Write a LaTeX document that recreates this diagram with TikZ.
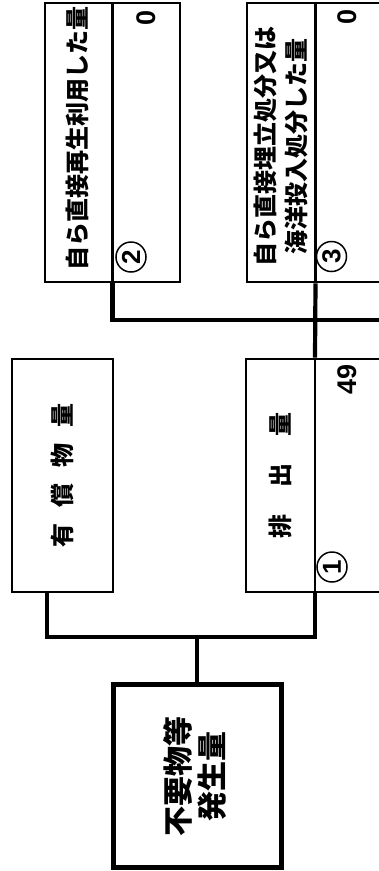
\documentclass[tikz,border=0pt]{standalone}
\usepackage{fontspec}
\usetikzlibrary{positioning}
\newfontfamily\jp{Noto Sans CJK JP}
\newfontfamily\numfont{Liberation Sans}
\tikzset{
  box/.style={draw, line width=2.8pt, inner sep=0pt},
  bigbox/.style={draw, line width=5pt, inner sep=0pt},
  divline/.style={line width=2.4pt},
  conn/.style={line width=4.2pt},
  boxtext/.style={rotate=90, inner sep=0pt, align=center, font=\jp\bfseries\fontsize{24}{31}\selectfont},
  amount/.style={rotate=90, inner sep=0pt, font=\numfont\bfseries\fontsize{27}{27}\selectfont},
  circnum/.style={rotate=90, circle, draw, line width=1.5pt, inner sep=0pt, minimum size=30pt, font=\numfont\bfseries\fontsize{26}{26}\selectfont}
}
\begin{document}
\begin{tikzpicture}[x=1pt, y=-1pt]
    \useasboundingbox (0,0) rectangle (379,871);

    \node[box, minimum width=135, minimum height=279] (reuse) at (112.5,142.5) {};
    \node[box, minimum width=137, minimum height=279] (landfill) at (315.5,142.5) {};
    \node[box, minimum width=101, minimum height=233] (valuable) at (62.5,475.5) {};
    \node[box, minimum width=138, minimum height=233] (discharge) at (315,475.5) {};
    \node[bigbox, minimum width=168, minimum height=183] (generated) at (197,775.5) {};

    \draw[divline] (reuse.north) -- (reuse.south);
    \draw[divline] (landfill.north) -- (landfill.south);
    \draw[divline] (discharge.north) -- (discharge.south);

    \coordinate (highbus) at (384,320);
    \coordinate (lowbus) at (197,637);
    \draw[conn] (reuse.south) |- (highbus);
    \draw[conn] (landfill.south) -- (discharge.north);
    \draw[conn] ([xshift=-15.5]valuable.south) |- (lowbus) -| (discharge.south);
    \draw[conn] (generated.north) -- (lowbus);

    \node[boxtext] (reusetxt) at (77,138.5) {自ら直接再生利用した量};
    \node[boxtext] (landfilltxt) at (280.5,146) {自ら直接埋立処分又は\\海洋投入処分した量};
    \node[boxtext] (valuabletxt) at (62,475) {有\hspace{16pt}償\hspace{16pt}物\hspace{16pt}量};
    \node[boxtext] (dischargetxt) at (280,475) {排\hspace{27pt}出\hspace{27pt}量};
    \node[boxtext, font=\jp\bfseries\fontsize{30}{34}\selectfont] (generatedtxt) at (195,776) {不要物等\\発生量};

    \node[circnum] (no1) at (332,567) {1};
    \node[circnum] (no2) at (131,257) {2};
    \node[circnum] (no3) at (331.5,256.5) {3};

    \node[amount] (reuseval) at (146,18) {0};
    \node[amount] (landfillval) at (347,17) {0};
    \node[amount] (dischargeval) at (347,379) {49};
\end{tikzpicture}
\end{document}
